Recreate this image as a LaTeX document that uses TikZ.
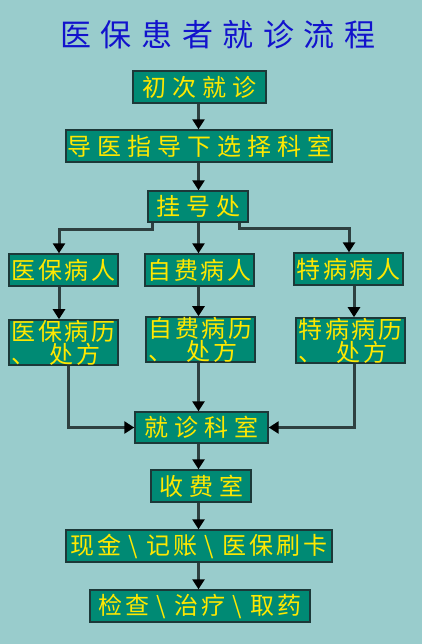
\documentclass[tikz,border=0pt]{standalone}
\usepackage{fontspec}
\usetikzlibrary{arrows.meta}
\newfontfamily\cjklarge[LetterSpace=25]{Noto Sans CJK SC}
\newfontfamily\cjkserre[LetterSpace=12]{Noto Sans CJK SC}
\newfontfamily\cjktitre[LetterSpace=31]{Noto Sans CJK SC}
\newcommand{\barre}{\hspace{7pt}\textbackslash\hspace{9pt}}
\definecolor{fond}{HTML}{99CCCC}
\definecolor{boite}{HTML}{008A74}
\definecolor{bord}{HTML}{1C3838}
\definecolor{jaune}{HTML}{FFE800}
\definecolor{trait}{HTML}{2E4040}
\definecolor{titre}{HTML}{1212CC}
\begin{document}
\begin{tikzpicture}[x=1pt,y=-1pt,
  etape/.style={draw=bord,line width=1.4pt,fill=boite,text=jaune,inner sep=0pt,
    minimum height=32pt,font=\cjklarge\fontsize{24}{23}\selectfont},
  serre/.style={etape,font=\cjkserre\fontsize{24}{23}\selectfont},
  double/.style={serre,minimum height=45pt,align=left},
  conn/.style={draw=trait,line width=3pt,-{Triangle[width=12pt,length=10pt,color=black]}}]
  % Fond
  \fill[fond] (0,0) rectangle (422,644);
  \useasboundingbox (0,0) rectangle (422,644);

  % Titre
  \node[text=titre,font=\cjktitre\fontsize{31}{31}\selectfont] (titre) at (218,35) {医保患者就诊流程};

  % Etapes
  \node[etape,minimum width=133pt] (chuzhen) at (199.5,87) {初次就诊};
  \node[etape,minimum width=266pt] (daoyi) at (199,146) {导医指导下选择科室};
  \node[etape,minimum width=100pt,minimum height=31pt] (guahao) at (198,206.5) {挂号处};
  \node[serre,minimum width=109pt] (ybbr) at (63.5,270) {医保病人};
  \node[serre,minimum width=109pt] (zfbr) at (199.5,270) {自费病人};
  \node[serre,minimum width=109pt] (tbbr) at (348.5,269) {特病病人};
  \node[double,minimum width=109pt] (ybbl) at (63.5,342.5) {医保病历\\、\hspace{0.6em}处方};
  \node[double,minimum width=109pt] (zfbl) at (200.5,339.5) {自费病历\\、\hspace{0.6em}处方};
  \node[double,minimum width=109pt] (tbbl) at (350.5,340.5) {特病病历\\、\hspace{0.6em}处方};
  \node[etape,minimum width=133pt,minimum height=31pt] (jzks) at (201.5,427.5) {就诊科室};
  \node[etape,minimum width=100pt] (sfs) at (201,486) {收费室};
  \node[serre,minimum width=266pt] (jiaofei) at (199,546) {现金\barre 记账\barre 医保刷卡};
  \node[serre,minimum width=220pt] (jiancha) at (200,606) {检查\barre 治疗\barre 取药};

  % Fleches
  \draw[conn] ([xshift=-1pt]chuzhen.south) -- ([xshift=-1pt]chuzhen.south |- daoyi.north);
  \draw[conn] ([xshift=-0.5pt]daoyi.south) -- ([xshift=-0.5pt]daoyi.south |- guahao.north);
  \draw[conn] ([xshift=5pt]guahao.south west) -- ++(0,7) -| ([xshift=-4.5pt]ybbr.north);
  \draw[conn] ([xshift=0.5pt]guahao.south) -- ([xshift=0.5pt]guahao.south |- zfbr.north);
  \draw[conn] ([xshift=-9pt]guahao.south east) -- ++(0,6) -| ([xshift=0.5pt]tbbr.north);
  \draw[conn] ([xshift=-4.5pt]ybbr.south) -- ([xshift=-4.5pt]ybbr.south |- ybbl.north);
  \draw[conn] ([xshift=-1pt]zfbr.south) -- ([xshift=-1pt]zfbr.south |- zfbl.north);
  \draw[conn] ([xshift=5.5pt]tbbr.south) -- ([xshift=5.5pt]tbbr.south |- tbbl.north);
  \draw[conn] ([xshift=4.5pt]ybbl.south) |- (jzks.west);
  \draw[conn] ([xshift=-2pt]zfbl.south) -- ([xshift=-2pt]zfbl.south |- jzks.north);
  \draw[conn] ([xshift=3.5pt]tbbl.south) |- (jzks.east);
  \draw[conn] ([xshift=-3pt]jzks.south) -- ([xshift=-3pt]jzks.south |- sfs.north);
  \draw[conn] ([xshift=-2.5pt]sfs.south) -- ([xshift=-2.5pt]sfs.south |- jiaofei.north);
  \draw[conn] ([xshift=-0.5pt]jiaofei.south) -- ([xshift=-0.5pt]jiaofei.south |- jiancha.north);
\end{tikzpicture}
\end{document}
